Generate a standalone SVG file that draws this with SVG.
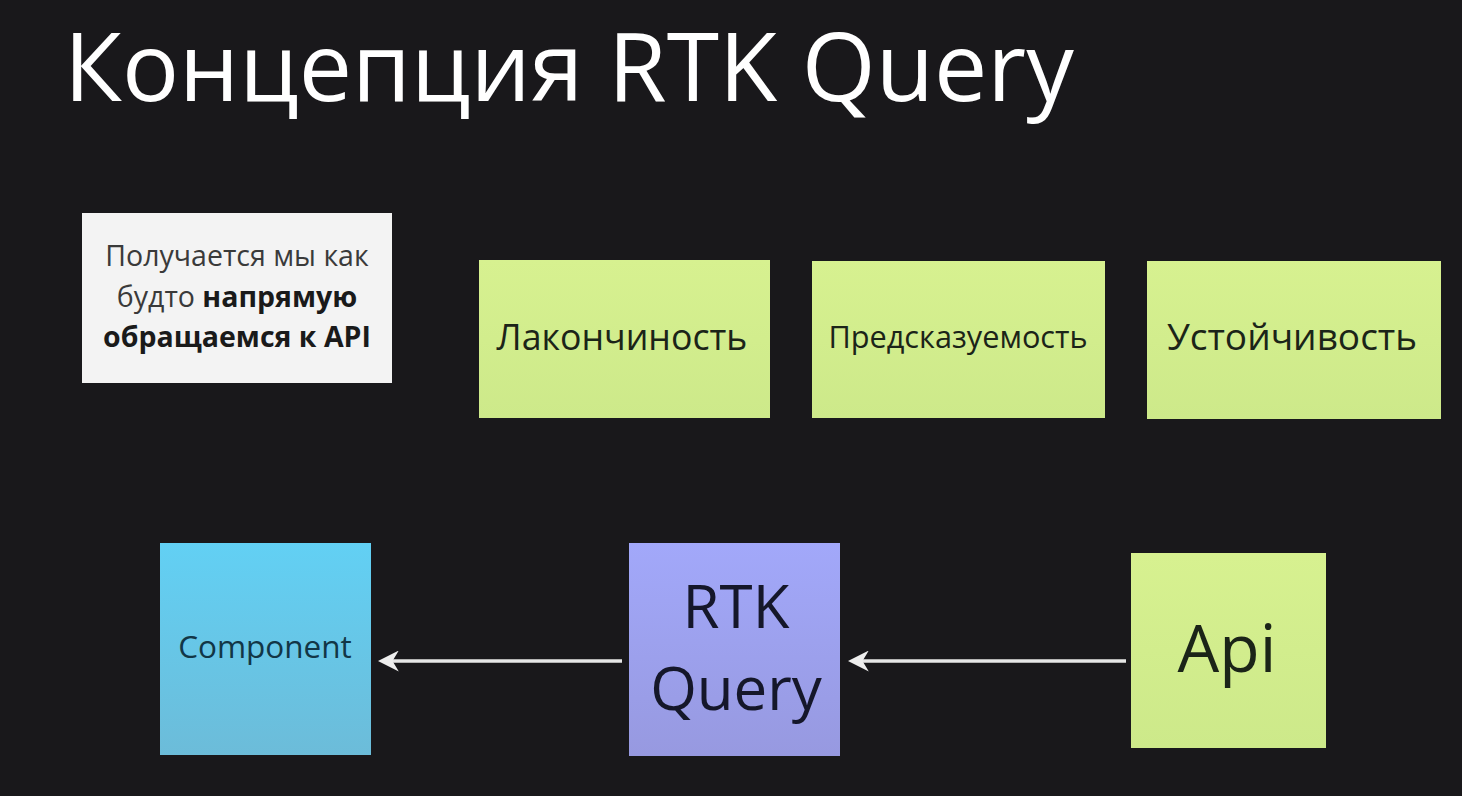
<svg xmlns="http://www.w3.org/2000/svg" width="1462" height="796" viewBox="0 0 1462 796">
<defs>
<style>
.t{font-family:"Open Sans","Noto Sans","Liberation Sans",sans-serif;}
.lbl{fill:#1b2418;text-anchor:middle;}
.conn{stroke:#e6e6e6;stroke-width:3.5;fill:none;}
</style>
<linearGradient id="gGreen" x1="0" y1="0" x2="0" y2="1"><stop offset="0" stop-color="#d7f190"/><stop offset="1" stop-color="#cde98a"/></linearGradient>
<linearGradient id="gBlue" x1="0" y1="0" x2="0" y2="1"><stop offset="0" stop-color="#62d0f4"/><stop offset="1" stop-color="#6cbcd9"/></linearGradient>
<linearGradient id="gViolet" x1="0" y1="0" x2="0" y2="1"><stop offset="0" stop-color="#a2a8fa"/><stop offset="1" stop-color="#9799e0"/></linearGradient>
<marker id="arr" viewBox="0 0 10 10" refX="8" refY="5" markerWidth="6" markerHeight="6" orient="auto" markerUnits="strokeWidth">
<path d="M0,0 L10,5 L0,10 L3,5 Z" fill="#eeeeee"/>
</marker>
</defs>
<rect width="1462" height="796" fill="#19181b"/>
<text class="t" x="64" y="101" font-size="95" fill="#ffffff">Концепция RTK Query</text>

<g id="note-info">
<rect x="82" y="213" width="310" height="170" fill="#f3f3f3"/>
<text class="t" x="237" y="266" font-size="28.5" fill="#3a3a3a" text-anchor="middle">Получается мы как</text>
<text class="t" x="237" y="307" font-size="28.5" fill="#3a3a3a" text-anchor="middle">будто <tspan font-weight="bold" fill="#1a1a1a">напрямую</tspan></text>
<text class="t" x="237" y="347" font-size="28.5" font-weight="bold" fill="#1a1a1a" text-anchor="middle">обращаемся к API</text>
</g>

<g id="note-lakonichnost">
<rect x="479" y="260" width="291" height="158" fill="url(#gGreen)"/>
<text class="t lbl" x="622" y="350" font-size="35.7">Лакончиность</text>
</g>
<g id="note-predskazuemost">
<rect x="812" y="261" width="293" height="157" fill="url(#gGreen)"/>
<text class="t lbl" x="958" y="348" font-size="30.7">Предсказуемость</text>
</g>
<g id="note-ustoichivost">
<rect x="1147" y="261" width="294" height="158" fill="url(#gGreen)"/>
<text class="t lbl" x="1292" y="350" font-size="37">Устойчивость</text>
</g>

<g id="node-component">
<rect x="160" y="543" width="211" height="212" fill="url(#gBlue)"/>
<text class="t" x="265" y="658" font-size="31.5" fill="#123646" text-anchor="middle">Component</text>
</g>
<g id="node-rtkquery">
<rect x="629" y="543" width="211" height="213" fill="url(#gViolet)"/>
<text class="t" x="736" y="628" font-size="60" fill="#15172a" text-anchor="middle">RTK</text>
<text class="t" x="736" y="710" font-size="60" fill="#15172a" text-anchor="middle">Query</text>
</g>
<g id="node-api">
<rect x="1131" y="553" width="195" height="195" fill="url(#gGreen)"/>
<text class="t lbl" x="1227" y="672" font-size="66">Api</text>
</g>

<g id="connectors">
<line class="conn" x1="622" y1="661" x2="382" y2="661" marker-end="url(#arr)"/>
<line class="conn" x1="1126" y1="661" x2="852" y2="661" marker-end="url(#arr)"/>
</g>
</svg>
